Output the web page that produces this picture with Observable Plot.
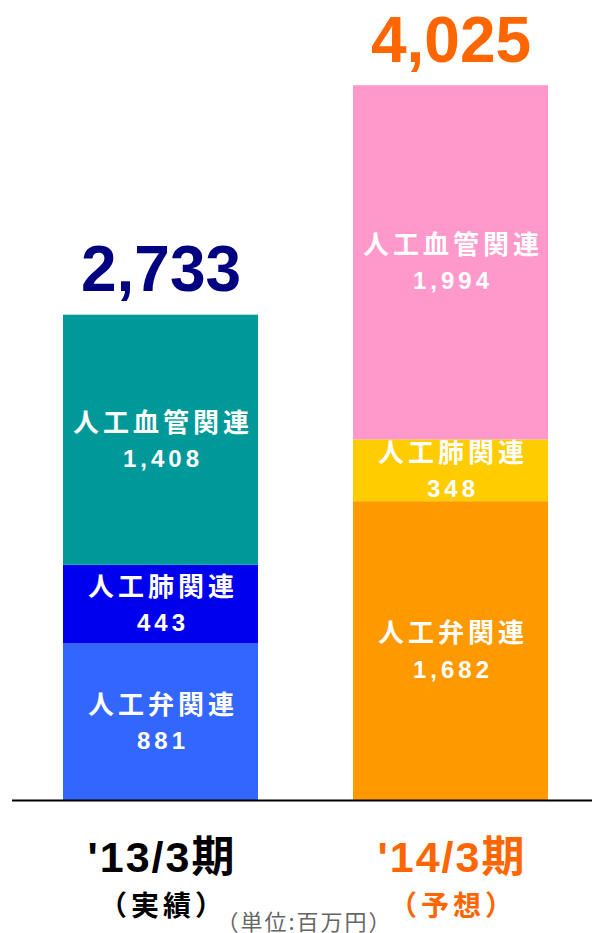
<!DOCTYPE html>
<html><head><meta charset="utf-8">
<script src="https://cdn.jsdelivr.net/npm/d3@7"></script>
<script src="https://cdn.jsdelivr.net/npm/@observablehq/plot@0.6"></script>
<style>
html,body{margin:0;padding:0;background:#fff;}
svg{font-family:"Noto Sans CJK JP","Noto Sans",sans-serif;}
</style>
</head><body>
<div id="chart"></div>
<script>
const periods = ["'13/3期", "'14/3期"];
const subs = ["（実績）", "（予想）"];
const categories = ["人工弁関連", "人工肺関連", "人工血管関連"];
const values13 = [881, 443, 1408];
const values14 = [1682, 348, 1994];
const totals = [2733, 4025];
const colors13 = ["#3366FF", "#0000EE", "#009999"];
const colors14 = ["#FF9900", "#FFCC00", "#FF99CC"];
const totalColors = ["#000080", "#FF6600"];
const periodColors = ["#000000", "#FF6600"];
const unitLabel = "（単位:百万円）";

const rows = [];
[[values13, colors13], [values14, colors14]].forEach(([vals, cols], i) => {
  let acc = 0;
  vals.forEach((v, j) => {
    rows.push({period: periods[i], cat: categories[j], value: v, y1: acc, y2: acc + v, mid: acc + v / 2, color: cols[j]});
    acc += v;
  });
});
const totalRows = periods.map((p, i) => ({period: p, total: totals[i], color: totalColors[i]}));
const periodRows = periods.map((p, i) => ({period: p, sub: subs[i], color: periodColors[i]}));
const fmt = d3.format(",");

const spacing = {"seg-name": 4, "seg-value": 4, "total": 0, "period": 2, "sub": 4, "unit": 2};
const latin = "'Liberation Sans','Noto Sans CJK JP',sans-serif";

const chart = Plot.plot({
  width: 592, height: 933,
  marginTop: 0, marginBottom: 0, marginLeft: 0, marginRight: 0,
  x: {domain: periods, range: [12, 599], paddingInner: 0.326, paddingOuter: 0.172, axis: null},
  y: {domain: [0, 4025], range: [800, 85], axis: null},
  marks: [
    Plot.rectY(rows, {x: "period", y1: "y1", y2: "y2", fill: "color"}),
    Plot.ruleY([0], {stroke: "#000", strokeWidth: 2, insetLeft: 12}),
    Plot.text(rows, {x: "period", y: "mid", text: "cat", dy: -17, dx: 2, fill: "#fff", fontSize: 26, fontWeight: "bold", ariaDescription: "seg-name"}),
    Plot.text(rows, {x: "period", y: "mid", text: d => fmt(d.value), dy: 19, dx: 2, fill: "#fff", fontSize: 24, fontWeight: "bold", fontFamily: latin, ariaDescription: "seg-value"}),
    Plot.text(totalRows, {x: "period", y: "total", text: d => fmt(d.total), dy: -44, fill: "color", fontSize: 64, fontWeight: "bold", fontFamily: latin, ariaDescription: "total"}),
    Plot.text(periodRows, {x: "period", y: () => 0, text: "period", dy: 58, dx: 1, fill: "color", fontSize: 43, fontWeight: "bold", fontFamily: latin, ariaDescription: "period"}),
    Plot.text(periodRows, {x: "period", y: () => 0, text: "sub", dy: 107, dx: 2, fill: "color", fontSize: 28, fontWeight: "bold", ariaDescription: "sub"}),
    Plot.text([unitLabel], {frameAnchor: "bottom-left", lineAnchor: "middle", text: d => d, dx: 216, dy: -11, fill: "#666", fontSize: 22, textAnchor: "start", ariaDescription: "unit"})
  ]
});
const sel = d3.select(chart);
for (const [k, v] of Object.entries(spacing)) {
  sel.selectAll(`g[aria-description="${k}"] text`).style("letter-spacing", v + "px");
}
document.getElementById("chart").appendChild(chart);
</script>
</body></html>
